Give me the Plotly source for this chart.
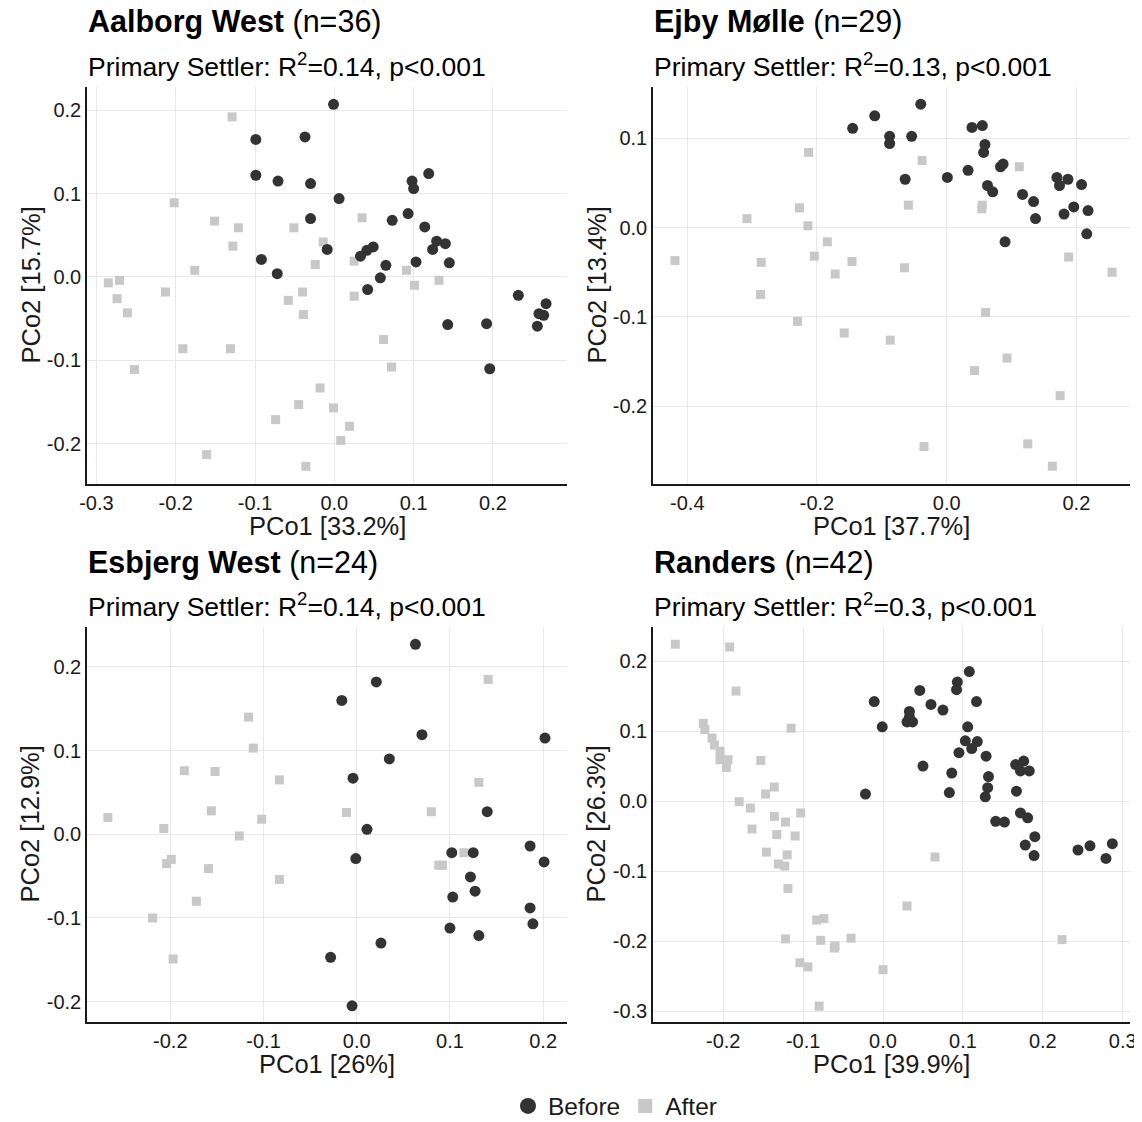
import plotly.graph_objects as go

# ---------------- data ----------------
sites = ["Aalborg West", "Ejby Mølle", "Esbjerg West", "Randers"]
n_vals = [36, 29, 24, 42]
r2_vals = ["0.14", "0.13", "0.14", "0.3"]
p_vals = ["0.001", "0.001", "0.001", "0.001"]
x_labels = ["PCo1 [33.2%]", "PCo1 [37.7%]", "PCo1 [26%]", "PCo1 [39.9%]"]
y_labels = ["PCo2 [15.7%]", "PCo2 [13.4%]", "PCo2 [12.9%]", "PCo2 [26.3%]"]
groups = ["Before", "After"]

# Aalborg West
aw_before_x = [-0.001, -0.099, -0.037, -0.099, -0.071, -0.030, -0.030, -0.009, -0.092, -0.072,
               0.006, 0.098, 0.100, 0.119, 0.093, 0.073, 0.114, 0.129, 0.140, 0.124,
               0.145, 0.103, 0.049, 0.041, 0.033, 0.065, 0.058, 0.042, 0.143, 0.192,
               0.196, 0.232, 0.267, 0.258, 0.264, 0.256]
aw_before_y = [0.207, 0.165, 0.168, 0.122, 0.115, 0.112, 0.070, 0.033, 0.021, 0.004,
               0.094, 0.115, 0.106, 0.124, 0.076, 0.068, 0.060, 0.043, 0.040, 0.033,
               0.017, 0.018, 0.036, 0.032, 0.025, 0.014, -0.001, -0.015, -0.057, -0.056,
               -0.110, -0.022, -0.032, -0.044, -0.046, -0.059]
aw_after_x = [-0.129, -0.202, -0.151, -0.121, -0.128, -0.051, -0.014, -0.024, -0.176, -0.285,
              -0.271, -0.274, -0.261, -0.213, -0.058, -0.040, -0.039, -0.191, -0.131, -0.252,
              -0.018, -0.045, -0.074, -0.001, -0.161, -0.036, 0.035, 0.025, 0.025, 0.091,
              0.101, 0.132, 0.062, 0.072, 0.019, 0.008]
aw_after_y = [0.192, 0.089, 0.067, 0.059, 0.037, 0.059, 0.042, 0.015, 0.008, -0.007,
              -0.004, -0.026, -0.043, -0.018, -0.028, -0.018, -0.045, -0.086, -0.086, -0.111,
              -0.133, -0.153, -0.171, -0.157, -0.213, -0.227, 0.071, 0.019, -0.023, 0.008,
              -0.010, -0.004, -0.075, -0.108, -0.179, -0.196]

# Ejby Mølle
em_before_x = [-0.111, -0.145, -0.088, -0.088, -0.040, -0.054, -0.064, 0.001, 0.033, 0.039,
               0.055, 0.059, 0.057, 0.083, 0.087, 0.063, 0.071, 0.117, 0.134, 0.137,
               0.090, 0.170, 0.187, 0.174, 0.208, 0.196, 0.181, 0.218, 0.216]
em_before_y = [0.125, 0.111, 0.102, 0.094, 0.138, 0.102, 0.054, 0.056, 0.064, 0.112,
               0.114, 0.093, 0.084, 0.068, 0.071, 0.047, 0.040, 0.037, 0.029, 0.010,
               -0.016, 0.056, 0.054, 0.047, 0.048, 0.023, 0.015, 0.019, -0.007]
em_after_x = [-0.213, -0.227, -0.308, -0.214, -0.419, -0.286, -0.184, -0.204, -0.146, -0.172,
              -0.287, -0.230, -0.158, -0.087, -0.038, -0.059, 0.055, 0.054, 0.112, -0.065,
              0.188, 0.255, 0.060, 0.093, 0.043, 0.175, -0.035, 0.125, 0.163]
em_after_y = [0.084, 0.022, 0.010, 0.002, -0.037, -0.039, -0.016, -0.032, -0.038, -0.052,
              -0.075, -0.105, -0.118, -0.126, 0.075, 0.025, 0.025, 0.021, 0.068, -0.045,
              -0.033, -0.050, -0.095, -0.146, -0.160, -0.188, -0.245, -0.242, -0.267]

# Esbjerg West
ew_before_x = [0.063, 0.021, -0.016, 0.070, 0.202, 0.035, -0.004, 0.140, 0.011, -0.001,
               0.102, 0.125, 0.186, 0.201, 0.122, 0.127, 0.103, 0.186, 0.189, 0.100,
               0.131, 0.026, -0.028, -0.005]
ew_before_y = [0.227, 0.182, 0.160, 0.119, 0.115, 0.090, 0.067, 0.027, 0.006, -0.029,
               -0.022, -0.022, -0.014, -0.033, -0.051, -0.068, -0.075, -0.088, -0.107, -0.112,
               -0.121, -0.130, -0.147, -0.205]
ew_after_x = [-0.116, -0.111, -0.185, -0.152, -0.083, -0.267, -0.156, -0.102, -0.207, -0.126,
              -0.199, -0.204, -0.159, -0.083, -0.172, -0.219, -0.197, 0.141, 0.131, -0.011,
              0.080, 0.115, 0.088, 0.092]
ew_after_y = [0.140, 0.103, 0.076, 0.075, 0.065, 0.020, 0.028, 0.018, 0.007, -0.002,
              -0.030, -0.035, -0.041, -0.054, -0.080, -0.100, -0.149, 0.185, 0.062, 0.026,
              0.027, -0.022, -0.037, -0.037]

# Randers
ra_before_x = [-0.011, -0.001, -0.022, 0.108, 0.093, 0.092, 0.046, 0.060, 0.075, 0.117,
               0.033, 0.030, 0.037, 0.033, 0.106, 0.103, 0.118, 0.111, 0.095, 0.129,
               0.050, 0.086, 0.083, 0.132, 0.131, 0.128, 0.166, 0.176, 0.172, 0.183,
               0.167, 0.141, 0.152, 0.172, 0.181, 0.190, 0.178, 0.189, 0.244, 0.259,
               0.287, 0.279]
ra_before_y = [0.142, 0.106, 0.010, 0.185, 0.170, 0.159, 0.158, 0.138, 0.130, 0.142,
               0.128, 0.113, 0.113, 0.120, 0.106, 0.086, 0.085, 0.075, 0.069, 0.064,
               0.050, 0.040, 0.012, 0.035, 0.019, 0.006, 0.052, 0.057, 0.043, 0.043,
               0.014, -0.029, -0.030, -0.017, -0.024, -0.051, -0.063, -0.078, -0.070, -0.064,
               -0.061, -0.082]
ra_after_x = [-0.260, -0.192, -0.184, -0.225, -0.223, -0.214, -0.211, -0.204, -0.204, -0.194,
              -0.196, -0.115, -0.153, -0.136, -0.147, -0.180, -0.166, -0.136, -0.122, -0.103,
              -0.164, -0.133, -0.110, -0.146, -0.120, -0.131, -0.123, -0.119, -0.083, -0.074,
              -0.122, -0.078, -0.061, -0.060, -0.040, -0.104, -0.094, 0.000, -0.080, 0.065,
              0.030, 0.224]
ra_after_y = [0.224, 0.220, 0.157, 0.111, 0.102, 0.090, 0.080, 0.071, 0.059, 0.059,
              0.048, 0.104, 0.058, 0.020, 0.010, -0.001, -0.010, -0.022, -0.030, -0.017,
              -0.040, -0.048, -0.050, -0.073, -0.077, -0.090, -0.093, -0.125, -0.170, -0.168,
              -0.197, -0.199, -0.210, -0.207, -0.196, -0.231, -0.237, -0.241, -0.293, -0.080,
              -0.150, -0.198]

# tick values / labels
x_tickvals = [[-0.3, -0.2, -0.1, 0.0, 0.1, 0.2],
              [-0.4, -0.2, 0.0, 0.2],
              [-0.2, -0.1, 0.0, 0.1, 0.2],
              [-0.2, -0.1, 0.0, 0.1, 0.2, 0.3]]
x_ticktext = [["-0.3", "-0.2", "-0.1", "0.0", "0.1", "0.2"],
              ["-0.4", "-0.2", "0.0", "0.2"],
              ["-0.2", "-0.1", "0.0", "0.1", "0.2"],
              ["-0.2", "-0.1", "0.0", "0.1", "0.2", "0.3"]]
y_tickvals = [[-0.2, -0.1, 0.0, 0.1, 0.2],
              [-0.2, -0.1, 0.0, 0.1],
              [-0.2, -0.1, 0.0, 0.1, 0.2],
              [-0.3, -0.2, -0.1, 0.0, 0.1, 0.2]]
y_ticktext = [["-0.2", "-0.1", "0.0", "0.1", "0.2"],
              ["-0.2", "-0.1", "0.0", "0.1"],
              ["-0.2", "-0.1", "0.0", "0.1", "0.2"],
              ["-0.3", "-0.2", "-0.1", "0.0", "0.1", "0.2"]]

before_x = [aw_before_x, em_before_x, ew_before_x, ra_before_x]
before_y = [aw_before_y, em_before_y, ew_before_y, ra_before_y]
after_x = [aw_after_x, em_after_x, ew_after_x, ra_after_x]
after_y = [aw_after_y, em_after_y, ew_after_y, ra_after_y]

# ---------------- layout helpers ----------------
W, H = 1142, 1122
PAGE_OFF = 8  # default body margin of the html page
FONT = "Liberation Sans, Arial, Helvetica, sans-serif"
C_BEFORE = "#333333"
C_AFTER = "#c8c8c8"
TXT = "#1a1a1a"

# panel boxes in page pixels: (left, right, top, bottom)
boxes = [(87, 567, 87, 484), (653, 1130, 87, 484),
         (87, 567, 627, 1022), (653, 1130, 627, 1022)]
x_ranges = [[-0.3119, 0.2934], [-0.4529, 0.2827], [-0.2894, 0.2256], [-0.2879, 0.3091]]
y_ranges = [[-0.2482, 0.2278], [-0.2869, 0.1572], [-0.2243, 0.2477], [-0.3157, 0.2486]]


def px_x(p):
    return (p - PAGE_OFF) / W


def px_y(p):
    return 1 - (p - PAGE_OFF) / H


fig = go.Figure()
layout = dict(
    width=W, height=H,
    margin=dict(l=0, r=0, t=0, b=0, autoexpand=False),
    paper_bgcolor="white", plot_bgcolor="white",
    font=dict(family=FONT, color=TXT),
    showlegend=True,
    legend=dict(orientation="h", x=px_x(615), xanchor="center", y=px_y(1106), yanchor="middle",
                font=dict(size=24.5, color=TXT), itemsizing="trace", bgcolor="rgba(0,0,0,0)",
                tracegroupgap=0),
)
annotations = []

for i in range(4):
    k = "" if i == 0 else str(i + 1)
    l, r, t, b = boxes[i]
    axis_common = dict(showgrid=True, gridcolor="#e8e8e8", gridwidth=1.3, zeroline=False,
                       showline=True, linecolor=TXT, linewidth=1.5, ticks="",
                       tickfont=dict(size=20, color=TXT, family=FONT))
    layout["xaxis" + k] = dict(domain=[px_x(l), px_x(r)], range=x_ranges[i], anchor="y" + k,
                               tickvals=x_tickvals[i], ticktext=x_ticktext[i], **axis_common)
    layout["yaxis" + k] = dict(domain=[px_y(b), px_y(t)], range=y_ranges[i], anchor="x" + k,
                               tickvals=y_tickvals[i], ticktext=y_ticktext[i], **axis_common)

    fig.add_trace(go.Scatter(x=after_x[i], y=after_y[i], mode="markers", xaxis="x" + k, yaxis="y" + k,
                             marker=dict(symbol="square", size=9, color=C_AFTER),
                             name=groups[1], showlegend=False, hoverinfo="skip"))
    fig.add_trace(go.Scatter(x=before_x[i], y=before_y[i], mode="markers", xaxis="x" + k, yaxis="y" + k,
                             marker=dict(symbol="circle", size=11, color=C_BEFORE),
                             name=groups[0], showlegend=False, hoverinfo="skip"))

    # titles
    annotations.append(dict(x=px_x(l - 1), y=px_y(t - 65), xref="paper", yref="paper",
                            xanchor="left", yanchor="middle", showarrow=False,
                            text="<b>" + sites[i] + "</b> (n=" + str(n_vals[i]) + ")",
                            font=dict(size=30.5, color="black", family=FONT)))
    annotations.append(dict(x=px_x(l - 1), y=px_y(t - 22), xref="paper", yref="paper",
                            xanchor="left", yanchor="middle", showarrow=False,
                            text="Primary Settler: R<sup>2</sup>=" + r2_vals[i] + ", p&lt;" + p_vals[i],
                            font=dict(size=26.5, color="black", family=FONT)))
    # axis titles
    annotations.append(dict(x=px_x((l + r) / 2), y=px_y(b + 42), xref="paper", yref="paper",
                            xanchor="center", yanchor="middle", showarrow=False,
                            text=x_labels[i], font=dict(size=25.5, color=TXT, family=FONT)))
    annotations.append(dict(x=px_x(l - 57), y=px_y((t + b) / 2), xref="paper", yref="paper",
                            xanchor="center", yanchor="middle", showarrow=False, textangle=-90,
                            text=y_labels[i], font=dict(size=25.5, color=TXT, family=FONT)))

# legend-only entries
fig.add_trace(go.Scatter(x=[None], y=[None], mode="markers", name=groups[0],
                         marker=dict(symbol="circle", size=16, color=C_BEFORE), hoverinfo="skip"))
fig.add_trace(go.Scatter(x=[None], y=[None], mode="markers", name=groups[1],
                         marker=dict(symbol="square", size=14, color=C_AFTER), hoverinfo="skip"))

layout["annotations"] = annotations
fig.update_layout(**layout)
fig.write_html("out.html")
